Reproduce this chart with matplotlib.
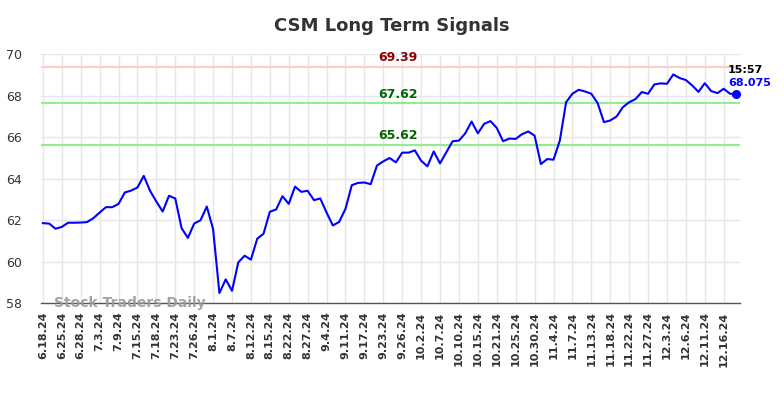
import matplotlib
matplotlib.use("Agg")
import matplotlib.pyplot as plt

values = [61.85, 61.83, 61.58, 61.67, 61.87, 61.87, 61.88, 61.90, 62.09, 62.36,
          62.62, 62.62, 62.78, 63.33, 63.42, 63.57, 64.13, 63.41, 62.89, 62.41,
          63.17, 63.04, 61.61, 61.14, 61.83, 61.99, 62.65, 61.56, 58.48, 59.14,
          58.59, 59.96, 60.28, 60.09, 61.10, 61.34, 62.40, 62.51, 63.15, 62.78,
          63.61, 63.36, 63.41, 62.96, 63.04, 62.36, 61.74, 61.91, 62.54, 63.68,
          63.79, 63.81, 63.73, 64.63, 64.83, 64.99, 64.78, 65.25, 65.25, 65.36,
          64.86, 64.59, 65.31, 64.73, 65.27, 65.80, 65.83, 66.18, 66.75, 66.18,
          66.64, 66.77, 66.44, 65.80, 65.93, 65.91, 66.14, 66.27, 66.07, 64.70,
          64.94, 64.91, 65.83, 67.68, 68.09, 68.28, 68.20, 68.09, 67.64, 66.72,
          66.80, 66.99, 67.44, 67.68, 67.83, 68.17, 68.09, 68.54, 68.59, 68.57,
          69.02, 68.85, 68.75, 68.49, 68.18, 68.60, 68.22, 68.12, 68.33, 68.09,
          68.075]

tick_labels = ["6.18.24", "6.25.24", "6.28.24", "7.3.24", "7.9.24", "7.15.24",
               "7.18.24", "7.23.24", "7.26.24", "8.1.24", "8.7.24", "8.12.24",
               "8.15.24", "8.22.24", "8.27.24", "9.4.24", "9.11.24", "9.17.24",
               "9.23.24", "9.26.24", "10.2.24", "10.7.24", "10.10.24", "10.15.24",
               "10.21.24", "10.25.24", "10.30.24", "11.4.24", "11.7.24", "11.13.24",
               "11.18.24", "11.22.24", "11.27.24", "12.3.24", "12.6.24", "12.11.24",
               "12.16.24"]
tick_step = 3

resistance = 69.39
supports = [67.62, 65.62]
last_time = "15:57"
last_value = 68.075
title = "CSM Long Term Signals"
watermark = "Stock Traders Daily"

fig = plt.figure(figsize=(7.84, 3.98), dpi=100)
ax = fig.add_axes([0.0523, 0.2387, 0.8917, 0.6253])

x = list(range(len(values)))
ticks = [i * tick_step for i in range(len(tick_labels))]

ax.set_xlim(-0.3, 110.6)
ax.set_ylim(58, 70)
ax.set_yticks([58, 60, 62, 64, 66, 68, 70])
ax.set_xticks(ticks)
ax.set_xticklabels(tick_labels, rotation=90, fontsize=8, fontweight="bold", color="#333333")
ax.tick_params(axis="y", labelsize=9, colors="#333333", length=0, pad=14)
ax.tick_params(axis="x", length=0, pad=6)
ax.grid(True, color="#e6e6e6", linewidth=1)
ax.set_axisbelow(True)
for s in ["top", "right", "left"]:
    ax.spines[s].set_visible(False)
ax.spines["bottom"].set_color("#555555")
ax.spines["bottom"].set_linewidth(1)

ax.axhline(resistance, color="#ffcccc", linewidth=1.5, zorder=1)
for sv in supports:
    ax.axhline(sv, color="#90ee90", linewidth=1.5, zorder=1)

mid = 56.3
ax.text(mid, resistance + 0.12, f"{resistance:.2f}", color="#8b0000", fontsize=9,
        fontweight="bold", ha="center", va="bottom")
for sv in supports:
    ax.text(mid, sv + 0.12, f"{sv:.2f}", color="#006400", fontsize=9,
            fontweight="bold", ha="center", va="bottom")

ax.plot(x, values, color="#0000ff", linewidth=1.5, zorder=3)
ax.plot([x[-1]], [values[-1]], "o", color="#0000ff", markersize=5.5, zorder=4)
ax.text(x[-1] - 1.3, 69.23, last_time, color="#000000", fontsize=8, fontweight="bold",
        ha="left", va="center")
ax.text(x[-1] - 1.3, 68.6, f"{last_value}", color="#0000ff", fontsize=8, fontweight="bold",
        ha="left", va="center")

ax.text(1.8, 57.98, watermark, color="#999999", fontsize=10, fontweight="bold",
        ha="left", va="center", alpha=0.9, zorder=5)

fig.text(0.5, 0.935, title, ha="center", va="center", fontsize=13,
         fontweight="bold", color="#333333")

fig.savefig("out.png", dpi=100)
